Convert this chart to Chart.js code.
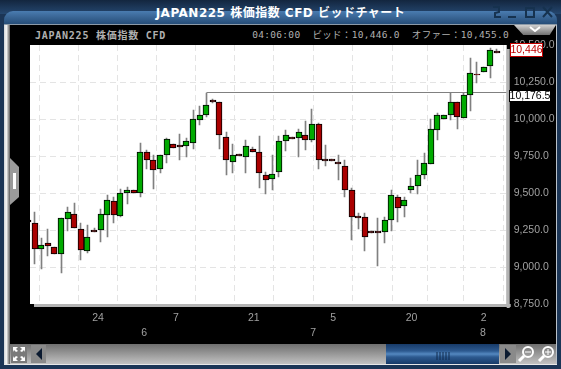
<!DOCTYPE html>
<html lang="ja">
<head>
<meta charset="utf-8">
<title>JAPAN225 株価指数 CFD ビッドチャート</title>
<script src="https://cdn.jsdelivr.net/npm/chart.js@4/dist/chart.umd.min.js"></script>
<style>
  html, body { margin: 0; padding: 0; background: #1b3556; overflow: hidden; }
  #win { position: relative; width: 561px; height: 369px; overflow: hidden; background: #1b3556; }
  #win div, #win svg { position: absolute; }
  #win canvas { position: absolute; left: 0; top: 0; }
  #topband { left: 0; top: 0; width: 561px; height: 14px; background: linear-gradient(#13263f, #25476f); }
  #titlebar { left: 4px; top: 11px; width: 553px; height: 14px; border-radius: 9px 9px 0 0;
    background: linear-gradient(#4a7cb0, #3b6797 40%, #234a74); }
  #title { left: 0; top: 3px; width: 561px; text-align: center; color: #fff; font: bold 12px "DejaVu Sans", "Noto Sans CJK JP", sans-serif; letter-spacing: 0.5px; }
  #leftbar { left: 4px; top: 24px; width: 6px; height: 341px; background: linear-gradient(90deg, #cfd3d6, #f6f6f6 40%, #8a8a8a 80%, #5a5a5a); }
  #rightbar { left: 556px; top: 24px; width: 1px; height: 341px; background: #b8c0c8; }
  #topline { left: 4px; top: 24px; width: 553px; height: 1px; background: #8c9aa8; }
  #black { left: 10px; top: 25px; width: 546px; height: 319px; background: #000; }
  #bottomline { left: 4px; top: 364px; width: 553px; height: 1px; background: #e8e8e8; }
  #track { left: 10px; top: 344px; width: 546px; height: 20px; background: linear-gradient(#6f6f6f, #c2c2c2); }
  #thumb { left: 386px; top: 344px; width: 113px; height: 20px; background: linear-gradient(#173a68, #2d5a90 35%, #5488c0 50%, #2d5a90 65%, #173a68); }
  #btn1 { left: 11px; top: 345px; width: 16px; height: 18px; background: #7a7a7a; }
  #btn2 { left: 31px; top: 345px; width: 15px; height: 18px; background: #8a8a8a; }
  #btn3 { left: 500px; top: 345px; width: 16px; height: 18px; background: #8a8a8a; }
  #lefttab { left: 10px; top: 158px; width: 9px; height: 47px; background: #9a9a9a;
    clip-path: polygon(0 0, 100% 9px, 100% 39px, 0 100%); }
  #slot { left: 13px; top: 173px; width: 3px; height: 16px; background: #fff; }
  #drop { left: 514px; top: 25px; width: 42px; height: 10px; background: linear-gradient(#d0d0d0, #6f6f6f);
    clip-path: polygon(0 0, 100% 0, 85% 100%, 22% 100%); }
  #hdrl, #hdrr { top: 27px; color: #b0b0b0; white-space: pre; font-family: "DejaVu Sans Mono", "Noto Sans CJK JP", monospace; }
  #hdrl { left: 35px; font-size: 10px; font-weight: bold; letter-spacing: 0.75px; }
  #hdrr { right: 52px; font-size: 9.5px; letter-spacing: 0.3px; }
</style>
</head>
<body>
<div id="win">
  <div id="topband"></div>
  <div id="titlebar"></div>
  <div id="title">JAPAN225 株価指数 CFD ビッドチャート</div>
  <svg style="left:490px;top:5px" width="66" height="14" fill="none" stroke="#16324f" stroke-width="2">
    <path d="M3 2h6v5l-4 1v4h6"/><path d="M18 12h8"/><rect x="36" y="3" width="8" height="9"/><path d="M53 2l9 10M62 2l-9 10"/>
  </svg>
  <div id="leftbar"></div>
  <div id="rightbar"></div>
  <div id="black"></div>
  <div id="topline"></div>
  <div id="track"></div>
  <div id="bottomline"></div>
  <div id="thumb"></div>
  <svg style="left:436px;top:352px" width="14" height="8" stroke="#102a4c"><path d="M1 0v8M4 0v8M7 0v8M10 0v8M13 0v8"/></svg>
  <div id="btn1"></div>
  <div id="btn2"></div>
  <div id="btn3"></div>
  <svg style="left:11px;top:345px" width="16" height="18" fill="#fff">
    <path d="M2 2h5l-2 2 2 2-2 1-2-2-1 2zM14 2h-5l2 2-2 2 2 1 2-2 1 2zM2 16h5l-2-2 2-2-2-1-2 2-1-2zM14 16h-5l2-2-2-2 2-1 2 2 1-2z"/>
  </svg>
  <svg style="left:31px;top:345px" width="15" height="18"><path d="M11 3v12l-6-6z" fill="#0b1a30"/></svg>
  <svg style="left:500px;top:345px" width="16" height="18"><path d="M5 3v12l6-6z" fill="#0b1a30"/></svg>
  <svg style="left:517px;top:345px" width="18" height="18" fill="none" stroke="#fff">
    <circle cx="11" cy="7" r="5" stroke-width="2"/><path d="M7 11l-5 5" stroke-width="3"/><path d="M8 7h6"/>
  </svg>
  <svg style="left:537px;top:345px" width="18" height="18" fill="none" stroke="#fff">
    <circle cx="11" cy="7" r="5" stroke-width="2"/><path d="M7 11l-5 5" stroke-width="3"/><path d="M8 7h6M11 4v6"/>
  </svg>
  <div id="lefttab"></div>
  <div id="slot"></div>
  <div id="drop"></div>
  <svg style="left:529px;top:26px" width="12" height="6" fill="none" stroke="#fff" stroke-width="2"><path d="M1 1l5 4 5-4"/></svg>
  <div id="hdrl">JAPAN225 株価指数 CFD</div>
  <div id="hdrr">04:06:00  ビッド：10,446.0  オファー：10,455.0</div>
  <canvas id="chart" width="561" height="369"></canvas>
</div>

<script>
// daily candles, oldest first
const opens = [9315, 9295, 9120, 9160, 9135, 9090, 9325, 9355, 9260, 9105, 9252, 9250, 9350, 9445, 9345, 9500, 9520, 9500, 9780, 9720,
  9665, 9760, 9830, 9827, 9820, 9840, 9990, 10025, 10127, 10115, 9880, 9710, 9766, 9745, 9800, 9780, 9620, 9595, 9640, 9850,
  9881, 9870, 9895, 9855, 9965, 9727, 9727, 9712, 9685, 9520, 9342, 9335, 9242, 9242, 9235, 9315, 9475, 9410, 9520, 9545,
  9620, 9695, 9925, 10000, 10030, 10115, 10010, 10165, 10305, 10315, 10355, 10458];
const highs = [9320, 9370, 9195, 9255, 9135, 9330, 9405, 9430, 9295, 9285, 9265, 9395, 9485, 9475, 9525, 9540, 9520, 9835, 9790, 9760,
  9760, 9875, 9830, 9900, 9870, 10060, 10090, 10176.5, 10135, 10115, 9910, 9830, 9766, 9855, 9810, 9885, 9640, 9755, 9885, 9925,
  9881, 9930, 9985, 10070, 9970, 9825, 9727, 9760, 9725, 9535, 9365, 9365, 9242, 9330, 9335, 9520, 9485, 9470, 9600, 9725,
  9770, 10000, 10040, 10030, 10175, 10115, 10175, 10410, 10385, 10350, 10480, 10470];
const lows = [9300, 9020, 8985, 9075, 9085, 8960, 9245, 9265, 9045, 9095, 9238, 9170, 9200, 9300, 9340, 9425, 9500, 9475, 9665, 9530,
  9635, 9705, 9805, 9725, 9745, 9800, 9960, 10015, 10105, 9800, 9625, 9635, 9752, 9635, 9780, 9535, 9495, 9520, 9610, 9785,
  9867, 9745, 9790, 9845, 9660, 9680, 9713, 9590, 9475, 9180, 9255, 9110, 9228, 9010, 9165, 9245, 9305, 9340, 9500, 9495,
  9595, 9695, 9855, 10000, 9990, 9935, 10010, 10055, 10245, 10315, 10280, 10446];
const closes = [9305, 9120, 9150, 9145, 9085, 9330, 9370, 9265, 9115, 9200, 9238, 9355, 9455, 9350, 9500, 9520, 9500, 9780, 9720, 9655,
  9760, 9865, 9805, 9813, 9850, 10000, 10025, 10095, 10113, 9895, 9720, 9760, 9752, 9815, 9780, 9635, 9585, 9630, 9850, 9890,
  9867, 9915, 9860, 9965, 9720, 9713, 9713, 9698, 9520, 9335, 9328, 9200, 9228, 9228, 9315, 9485, 9400, 9455, 9545, 9620,
  9700, 9930, 10025, 10030, 10115, 10015, 10160, 10310, 10298, 10350, 10465, 10446];

const priceTicks = [8750, 9000, 9250, 9500, 9750, 10000, 10250, 10500];
const gridPositions = [4.7, 10.6, 16.5, 22.4, 28.3, 34.2, 40.3, 46.2, 52.2, 58.1, 63, 69];
const dayLabels = ['', '24', '', '7', '', '21', '', '5', '', '20', '', '2'];
const monthPositions = [17.6, 43.2, 68.9];
const monthLabels = ['6', '7', '8'];

const highLine = 10176.5;
const highStart = 27;
const bidTag = '10,446';
const bidValue = 10446;
const highTag = '10,176.5';

const X_MIN = 0.3;
const X_MAX = 72.5;
const TICK_FONT = { family: '"Liberation Sans", sans-serif', size: 10.5 };
const TICK_COLOR = '#a0a0a0';

const wicks = highs.map((h, i) => ({ x: i, y: [lows[i], h] }));
const bodies = opens.map((o, i) => ({ x: i, y: [o, closes[i]] }));
const bodyColors = opens.map((o, i) => (closes[i] >= o ? '#00aa00' : '#aa0000'));

// white plot with its grey shadow, then snap marks to whole pixels like the original
const plotPlugin = {
  id: 'plot',
  beforeDraw(chart) {
    const { ctx, chartArea: a } = chart;
    ctx.save();
    ctx.fillStyle = '#b4b4b4';
    ctx.fillRect(a.left + 4, a.bottom, a.right - a.left, 3);
    ctx.fillRect(a.right, a.top + 4, 3, a.bottom - a.top);
    ctx.fillStyle = '#fff';
    ctx.fillRect(a.left, a.top, a.right - a.left, a.bottom - a.top);
    ctx.restore();
  },
  beforeDatasetsDraw(chart) {
    chart.data.datasets.forEach((ds, d) => {
      chart.getDatasetMeta(d).data.forEach(el => {
        if (ds.type === 'line') {
          el.x = Math.floor(el.x) + 0.5;
          el.y = Math.floor(el.y) + 0.5;
        } else {
          // odd widths sit on a half pixel, even widths on a whole one
          el.x = ds.barThickness % 2 ? Math.floor(el.x) + 0.5 : Math.round(el.x);
          el.y = Math.round(el.y);
          el.base = Math.round(el.base);
        }
      });
    });
  },
  afterDraw(chart) {
    const { ctx } = chart;
    const y = chart.scales.y;
    const tag = (text, value, left, w, h, dy, color) => {
      const top = Math.round(y.getPixelForValue(value) - h / 2) + dy;
      ctx.save();
      ctx.fillStyle = '#fff';
      ctx.fillRect(left, top, w, h);
      ctx.strokeStyle = color;
      ctx.lineWidth = 1;
      ctx.strokeRect(left + 0.5, top + 0.5, w - 1, h - 1);
      ctx.fillStyle = color;
      ctx.font = '10.5px ' + TICK_FONT.family;
      ctx.textAlign = 'center';
      ctx.textBaseline = 'middle';
      ctx.fillText(text, left + w / 2, top + h / 2 + 0.5);
      ctx.restore();
    };
    tag(bidTag, bidValue, 510, 33, 14, -3, '#c00000');
    tag(highTag, highLine, 509, 42, 12, 3, '#000');
  }
};

new Chart(document.getElementById('chart'), {
  data: {
    datasets: [
      {
        type: 'line',
        data: [{ x: highStart, y: highLine }, { x: X_MAX, y: highLine }],
        borderColor: '#808080',
        borderWidth: 1,
        pointRadius: 0,
        order: 3
      },
      {
        type: 'bar',
        data: wicks,
        backgroundColor: '#808080',
        borderWidth: 0,
        barThickness: 1,
        grouped: false,
        order: 2
      },
      {
        type: 'bar',
        data: bodies,
        backgroundColor: bodyColors,
        borderColor: '#000',
        borderWidth: 1,
        borderSkipped: false,
        barThickness: 6,
        grouped: false,
        order: 1
      }
    ]
  },
  options: {
    responsive: false,
    animation: false,
    layout: { padding: { left: 30, top: 45, right: 0, bottom: 0 } },
    plugins: { legend: { display: false }, tooltip: { enabled: false } },
    scales: {
      x: {
        type: 'linear',
        position: 'bottom',
        offset: false,
        min: X_MIN,
        max: X_MAX,
        border: { display: false, dash: [6, 4] },
        grid: { color: '#e4e4e4', drawTicks: false },
        afterBuildTicks(s) { s.ticks = gridPositions.map(v => ({ value: v })); },
        afterFit(s) { s.height = 20; },
        ticks: {
          autoSkip: false,
          maxRotation: 0,
          padding: 8,
          color: TICK_COLOR,
          font: TICK_FONT,
          callback: (v, i) => dayLabels[i]
        }
      },
      x2: {
        type: 'linear',
        position: 'bottom',
        offset: false,
        min: X_MIN,
        max: X_MAX,
        border: { display: false },
        grid: { display: false, drawTicks: false },
        afterBuildTicks(s) { s.ticks = monthPositions.map(v => ({ value: v })); },
        afterFit(s) { s.height = 45; },
        ticks: {
          autoSkip: false,
          maxRotation: 0,
          padding: 3,
          color: TICK_COLOR,
          font: TICK_FONT,
          callback: (v, i) => monthLabels[i]
        }
      },
      y: {
        position: 'right',
        min: priceTicks[0],
        max: priceTicks[priceTicks.length - 1],
        border: { display: false, dash: [6, 4] },
        grid: {
          // no rule on the plot's top and bottom edges
          color: c => (c.tick.value === priceTicks[0] || c.tick.value === priceTicks[priceTicks.length - 1] ? 'transparent' : '#e4e4e4'),
          drawTicks: false
        },
        afterBuildTicks(s) { s.ticks = priceTicks.map(v => ({ value: v })); },
        afterFit(s) { s.width = 54.3; },
        ticks: {
          padding: 7,
          color: TICK_COLOR,
          font: TICK_FONT,
          callback: v => v.toLocaleString('en-US', { minimumFractionDigits: 1 })
        }
      }
    }
  },
  plugins: [plotPlugin]
});
</script>
</body>
</html>
